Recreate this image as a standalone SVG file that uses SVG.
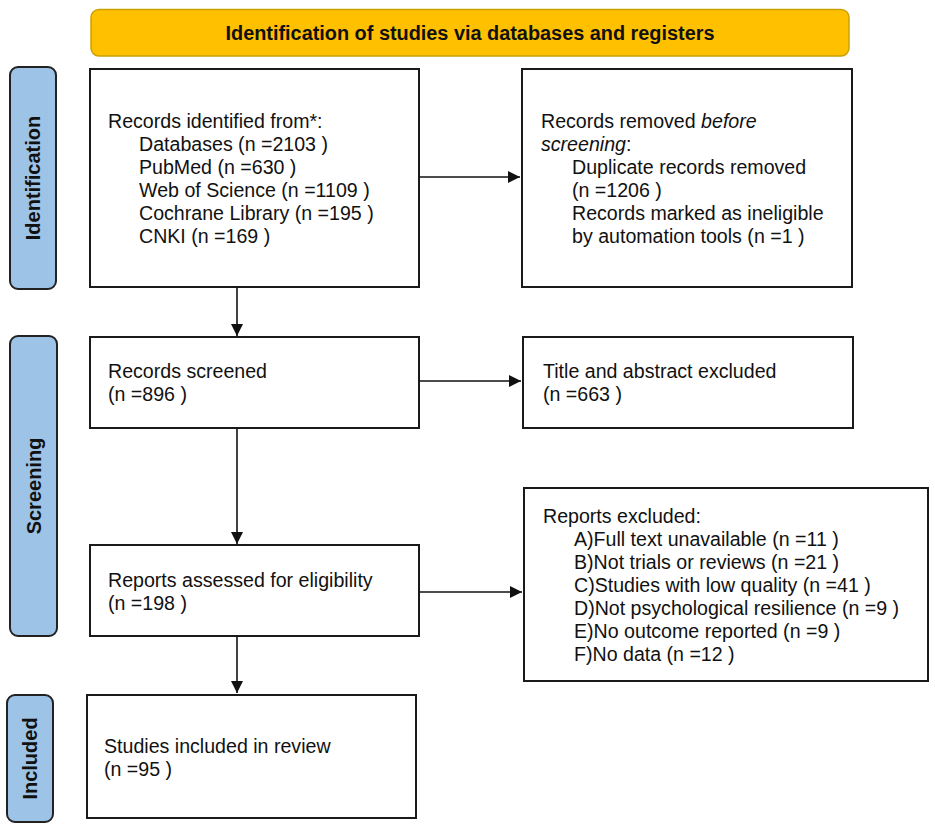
<svg xmlns="http://www.w3.org/2000/svg" width="935" height="832" viewBox="0 0 935 832">
<defs>
<style>
.box{fill:#fff;stroke:#1a1a1a;stroke-width:2}
.side{fill:#9DC3E6;stroke:#222;stroke-width:2}
.hdr{fill:#FFC000;stroke:#C9A000;stroke-width:1.5}
.t{font-family:"Liberation Sans",Arial,sans-serif;font-size:19.6px;fill:#111}
.b{font-family:"Liberation Sans",Arial,sans-serif;font-size:20px;font-weight:bold;fill:#111}
.c{stroke:#111;stroke-width:1.6;fill:none}
</style>
<marker id="ah" viewBox="0 0 12 12" markerWidth="12" markerHeight="12" refX="12" refY="6" orient="auto" markerUnits="userSpaceOnUse">
<path d="M0,0 L12,6 L0,12 Z" fill="#111"/>
</marker>
</defs>
<rect width="935" height="832" fill="#fff"/>

<g id="header">
<rect class="hdr" x="91" y="9.5" width="758" height="46.5" rx="8"/>
<text class="b" x="470" y="40" text-anchor="middle" textLength="489" lengthAdjust="spacingAndGlyphs">Identification of studies via databases and registers</text>
</g>

<g id="label-identification">
<rect class="side" x="10" y="67" width="46" height="222" rx="8"/>
<text class="b" transform="translate(40,178) rotate(-90)" text-anchor="middle">Identification</text>
</g>
<g id="label-screening">
<rect class="side" x="10" y="336" width="47" height="300" rx="8"/>
<text class="b" transform="translate(40.5,486) rotate(-90)" text-anchor="middle">Screening</text>
</g>
<g id="label-included">
<rect class="side" x="7" y="695" width="46" height="127" rx="8"/>
<text class="b" transform="translate(37,758.5) rotate(-90)" text-anchor="middle">Included</text>
</g>

<g id="records-identified">
<rect class="box" x="90" y="69" width="329" height="218"/>
<text class="t" x="108" y="128">Records identified from*:</text>
<text class="t" x="139" y="151">Databases (n =2103 )</text>
<text class="t" x="139" y="174">PubMed (n =630 )</text>
<text class="t" x="139" y="197">Web of Science (n =1109 )</text>
<text class="t" x="139" y="220">Cochrane Library (n =195 )</text>
<text class="t" x="139" y="243">CNKI (n =169 )</text>
</g>

<g id="records-removed">
<rect class="box" x="522" y="69" width="330" height="218"/>
<text class="t" x="541" y="128">Records removed <tspan font-style="italic">before</tspan></text>
<text class="t" x="541" y="151"><tspan font-style="italic">screening</tspan>:</text>
<text class="t" x="572" y="174">Duplicate records removed</text>
<text class="t" x="572" y="197">(n =1206 )</text>
<text class="t" x="572" y="220">Records marked as ineligible</text>
<text class="t" x="572" y="243">by automation tools (n =1 )</text>
</g>

<g id="records-screened">
<rect class="box" x="90" y="337" width="329" height="91"/>
<text class="t" x="108" y="378">Records screened</text>
<text class="t" x="108" y="401">(n =896 )</text>
</g>

<g id="title-abstract-excluded">
<rect class="box" x="523" y="337" width="330" height="91"/>
<text class="t" x="543" y="378">Title and abstract excluded</text>
<text class="t" x="543" y="401">(n =663 )</text>
</g>

<g id="reports-assessed">
<rect class="box" x="90" y="545" width="329" height="91"/>
<text class="t" x="108" y="587">Reports assessed for eligibility</text>
<text class="t" x="108" y="610">(n =198 )</text>
</g>

<g id="reports-excluded">
<rect class="box" x="524" y="488" width="404" height="193"/>
<text class="t" x="543" y="523">Reports excluded:</text>
<text class="t" x="574" y="546">A)Full text unavailable (n =11 )</text>
<text class="t" x="574" y="569">B)Not trials or reviews (n =21 )</text>
<text class="t" x="574" y="592">C)Studies with low quality (n =41 )</text>
<text class="t" x="574" y="615">D)Not psychological resilience (n =9 )</text>
<text class="t" x="574" y="638">E)No outcome reported (n =9 )</text>
<text class="t" x="574" y="661">F)No data (n =12 )</text>
</g>

<g id="studies-included">
<rect class="box" x="87" y="695" width="329" height="123"/>
<text class="t" x="104" y="753">Studies included in review</text>
<text class="t" x="104" y="776">(n =95 )</text>
</g>

<g id="connectors">
<line class="c" x1="419" y1="177" x2="520" y2="177" marker-end="url(#ah)"/>
<line class="c" x1="237" y1="287" x2="237" y2="336" marker-end="url(#ah)"/>
<line class="c" x1="419" y1="381" x2="521" y2="381" marker-end="url(#ah)"/>
<line class="c" x1="237" y1="428" x2="237" y2="544" marker-end="url(#ah)"/>
<line class="c" x1="419" y1="592" x2="522" y2="592" marker-end="url(#ah)"/>
<line class="c" x1="237" y1="636" x2="237" y2="693" marker-end="url(#ah)"/>
</g>
</svg>
